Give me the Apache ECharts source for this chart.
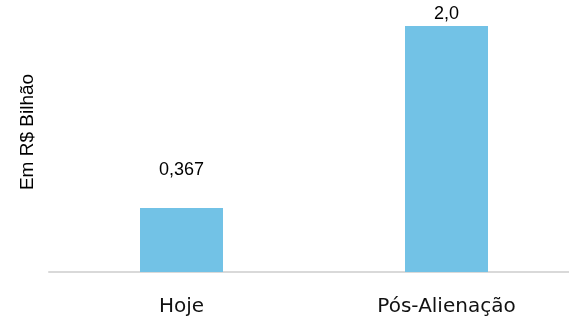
<!DOCTYPE html>
<html>
<head>
<meta charset="utf-8">
<script src="https://cdn.jsdelivr.net/npm/echarts@6/dist/echarts.min.js"></script>
<style>
  html, body { margin: 0; padding: 0; background: #fff; }
  #chart { width: 569px; height: 320px; }
</style>
</head>
<body>
<div id="chart"></div>
<script>
const categories = ["Hoje", "Pós-Alienação"];
const values = [0.367, 2.0];
const valueLabels = ["0,367", "2,0"];

// the original chart's baseline is below zero, bars start at the axis floor
const axisFloor = -0.207;
const labelGaps = [29, 3];

const chart = echarts.init(document.getElementById("chart"));
const option = {
  animation: false,
  grid: {
    left: 49,
    right: -10,
    top: 26,
    bottom: 48,
    outerBoundsMode: "none",
    containLabel: false,
  },
  xAxis: {
    type: "category",
    data: categories,
    axisTick: { show: false },
    axisLine: {
      show: true,
      onZero: false,
      lineStyle: { color: "#d9d9d9", width: 2 },
    },
    axisLabel: {
      color: "#111",
      fontSize: 20,
      fontFamily: "DejaVu Sans",
      margin: 25,
    },
  },
  yAxis: {
    type: "value",
    min: axisFloor,
    max: 2.0,
    show: false,
    splitLine: { show: false },
  },
  graphic: [
    {
      type: "text",
      x: 28,
      y: 132,
      rotation: Math.PI / 2,
      style: {
        text: "Em R$ Bilhão",
        fontSize: 19,
        fontFamily: "Liberation Sans",
        fill: "#000",
        align: "center",
        verticalAlign: "middle",
      },
    },
  ],
  series: [
    {
      name: "base",
      type: "bar",
      stack: "s",
      stackStrategy: "all",
      silent: true,
      barWidth: 83,
      itemStyle: { color: "transparent" },
      data: values.map(() => axisFloor),
    },
    {
      name: "valor",
      type: "bar",
      stack: "s",
      stackStrategy: "all",
      barWidth: 83,
      itemStyle: { color: "#72c2e6" },
      label: {
        show: true,
        position: "top",
        color: "#000",
        fontSize: 18,
        fontFamily: "Liberation Sans",
        formatter: (p) => valueLabels[p.dataIndex],
      },
      data: values.map((v, i) => ({
        value: v - axisFloor,
        label: { distance: labelGaps[i] },
      })),
    },
  ],
};
chart.setOption(option);
</script>
</body>
</html>
